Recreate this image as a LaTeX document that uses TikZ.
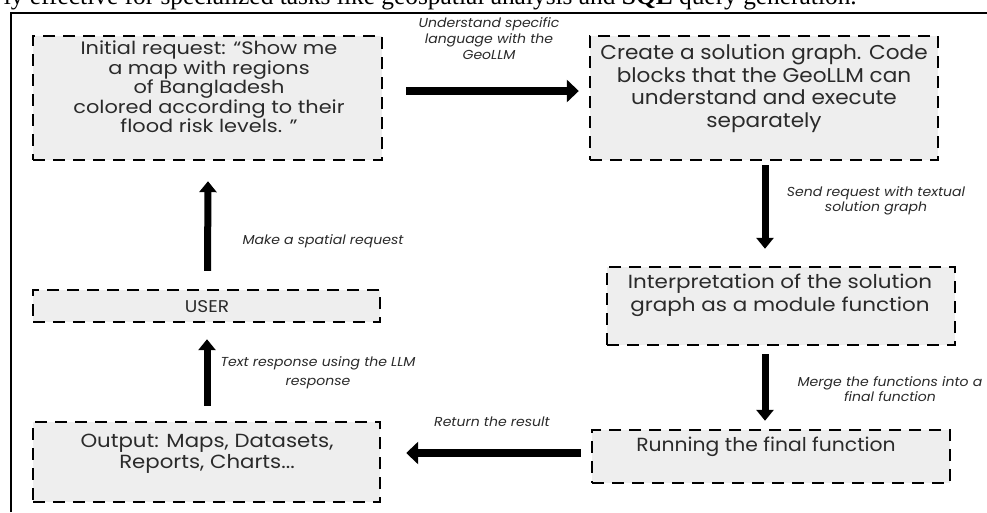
\documentclass[tikz,border=0pt]{standalone}
\usepackage{fontspec}
\setmainfont{Poppins}
\newfontfamily\timesfont{Liberation Serif}
\usetikzlibrary{arrows.meta,calc}
\definecolor{boxgray}{HTML}{EEEEEE}
\definecolor{txt}{HTML}{2A2A2A}
\begin{document}
\begin{tikzpicture}[x=1pt,y=-1pt,
  box/.style={draw=black, line width=2.4pt, dash pattern=on 12pt off 8pt, fill=boxgray, inner sep=0pt},
  boxtext/.style={text=txt, align=center, inner sep=0pt, transform shape},
  lbl/.style={text=txt, align=center, font=\itshape\fontsize{13}{15.5}\selectfont, inner sep=0pt, xscale=1.08, transform shape},
  harrow/.style={line width=8pt, -{Triangle[length=12pt,width=22pt]}},
  varrow/.style={line width=7pt, -{Triangle[length=11pt,width=17pt]}},
]
\useasboundingbox (0,0) rectangle (987,512);
\clip (0,0) rectangle (987,512);
\fill[white] (0,0) rectangle (987,512);

% top cut-off caption line
\node[anchor=base east, inner sep=0pt, font=\timesfont\fontsize{25.4}{30}\selectfont] (toptext) at (857,4.8)
  {ly effective for specialized tasks like geospatial analysis and \textbf{SQL} query generation.};
% frame
\draw[line width=2.2pt] (11,512) -- (11,13) -- (987,13);

% boxes
\node[box, minimum width=349pt, minimum height=124pt] (b1) at (207.5,98) {};
\node[box, minimum width=348pt, minimum height=124pt] (b2) at (764,98) {};
\node[box, minimum width=348pt, minimum height=78pt] (b3) at (781,306) {};
\node[box, minimum width=347pt, minimum height=32pt] (b4) at (206.5,306) {};
\node[box, minimum width=347pt, minimum height=80pt] (b5) at (206.5,462) {};
\node[box, minimum width=358pt, minimum height=53pt] (b6) at (771,456.5) {};

% box texts
\node[boxtext, xscale=1.16, font=\fontsize{18}{17.5}\selectfont] (t1) at (209,87)
  {Initial request: “Show me\\a map with regions\\of Bangladesh\\colored according to their\\flood risk levels. ”};
\node[boxtext, xscale=1.08, font=\fontsize{20}{22.7}\selectfont] (t2) at (764,88.5)
  {Create a solution graph. Code\\blocks that the GeoLLM can\\understand and execute\\separately};
\node[boxtext, xscale=1.13, font=\fontsize{19}{23}\selectfont] (t3) at (780,295.5)
  {Interpretation of the solution\\graph as a module function};
\node[boxtext, xscale=1.09, font=\fontsize{17}{20}\selectfont] (t4) at (207,306.5) {USER};
\node[boxtext, xscale=1.12, font=\fontsize{19}{21}\selectfont] (t5) at (207,454)
  {Output: Maps, Datasets,\\Reports, Charts...};
\node[boxtext, xscale=1.07, font=\fontsize{19}{21}\selectfont] (t6) at (766,447) {Running the final function};

% connectors
\draw[harrow] ($(b1.east)+(23,-7)$) -- ($(b2.west)+(-10,-7)$);
\draw[varrow] ($(b2.south)+(1,4)$) -- ($(b2.south|-b3.north)+(1,-17)$);
\draw[varrow] ($(b3.south)+(-16,8)$) -- ($(b6.north)+(-6,-8)$);
\draw[harrow] ($(b6.west)+(-10,-3.5)$) -- ($(b5.east|-b6.west)+(25,-3.5)$);
\draw[varrow] ($(b5.north)+(0.5,-15)$) -- ($(b4.south)+(0.5,16)$);
\draw[varrow] ($(b4.north)+(1,-18)$) -- ($(b1.south)+(0.5,20)$);

% labels
\node[lbl, font=\itshape\fontsize{13}{16}\selectfont] (l1) at (489,39) {Understand specific\\language with the\\GeoLLM};
\node[lbl] (l2) at (876,201) {Send request with textual\\solution graph};
\node[lbl] (l3) at (890,389) {Merge the functions into a\\final function};
\node[lbl] (l4) at (492,422) {Return the result};
\node[lbl, font=\itshape\fontsize{13}{19}\selectfont] (l5) at (318,373) {Text response using the LLM\\response};
\node[lbl] (l6) at (323,241) {Make a spatial request};
\end{tikzpicture}
\end{document}
